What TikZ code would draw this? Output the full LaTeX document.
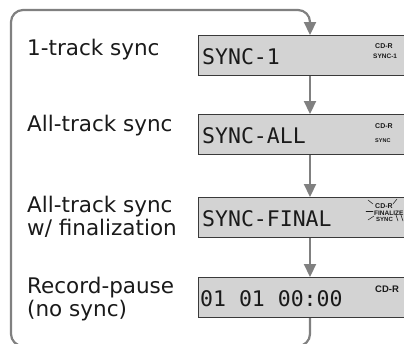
\documentclass[tikz,border=0pt]{standalone}
\usepackage{fontspec}
\setmainfont{DejaVu Sans}
\newfontfamily\lcdfont{DejaVu Sans Mono}
\newfontfamily\tagfont{Liberation Sans}
\usetikzlibrary{calc,arrows.meta}
\definecolor{bg}{HTML}{FFFFFF}
\definecolor{panel}{HTML}{D3D3D3}
\definecolor{edge}{HTML}{3A3A3A}
\definecolor{wire}{HTML}{808080}
\definecolor{ink}{HTML}{1A1A1A}
\tikzset{
  lcd/.style={draw=edge, fill=panel, line width=1.1pt, minimum width=230pt,
    minimum height=40pt, inner sep=0pt, anchor=north west},
  readout/.style={font=\lcdfont\fontsize{21.5}{22}\selectfont, text=ink,
    anchor=base west, inner sep=0pt},
  mode/.style={font=\fontsize{21.5}{23}\selectfont, text=ink,
    anchor=north west, align=left, inner sep=0pt},
  flag/.style={font=\tagfont\bfseries\fontsize{7}{7}\selectfont, text=ink,
    anchor=base west, inner sep=0pt},
  flow/.style={draw=wire, line width=2.2pt, -{Triangle[length=13pt,width=12pt]}},
  burst/.style={draw=ink, line width=0.5pt, line cap=round}
}

\begin{document}
\begin{tikzpicture}[x=1pt, y=-1pt]
  \useasboundingbox (0,0) rectangle (404,343);
  \clip (0,0) rectangle (404,343);
  \fill[bg] (0,0) rectangle (404,343);

  % display panels
  \node[lcd] (s1) at (198,35) {};
  \node[lcd] (s2) at (198,114) {};
  \node[lcd] (s3) at (198,197) {};
  \node[lcd] (s4) at (198,277) {};

  \node[readout] (t1) at (202,64) {SYNC-1};
  \node[readout] (t2) at (202,143) {SYNC-ALL};
  \node[readout] (t3) at (202,226) {SYNC-FINAL};
  \node[readout] (t4) at (200,306) {01 01 00:00};

  % indicators
  \node[flag] (c1) at (375,48) {CD-R};
  \node[flag, font=\tagfont\bfseries\fontsize{6.5}{7}\selectfont] (i1) at (373,58) {SYNC-1};
  \node[flag] (c2) at (375,128) {CD-R};
  \node[flag, font=\tagfont\bfseries\fontsize{5.5}{6}\selectfont] (i2) at (375,142) {SYNC};
  \node[flag] (c3) at (375,208) {CD-R};
  \node[flag, font=\tagfont\bfseries\fontsize{6.5}{7}\selectfont] (f3) at (374,215) {FINALIZE};
  \node[flag, font=\tagfont\bfseries\fontsize{6}{7}\selectfont] (i3) at (376,221) {SYNC};
  \node[flag, font=\tagfont\bfseries\fontsize{9.5}{10}\selectfont] (c4) at (375,292) {CD-R};

  % blinking marks
  \draw[burst] (368,200) -- (373,204);
  \draw[burst] (366,211) -- (373,211);
  \draw[burst] (368,220) -- (374,216);
  \draw[burst] (393,204) -- (397,199);
  \draw[burst] (396,215) -- (398,221);
  \draw[burst] (401,215) -- (403,221);

  % mode labels
  \node[mode] (m1) at (27,39) {1-track sync};
  \node[mode] (m2) at (27,115) {All-track sync};
  \node[mode] (m3) at (27,196) {All-track sync\\w/ finalization};
  \node[mode] (m4) at (27,277) {Record-pause\\(no sync)};

  % flow
  \coordinate (lane) at (310,0);
  \draw[flow] (s1.south -| lane) -- (s2.north -| lane);
  \draw[flow] (s2.south -| lane) -- (s3.north -| lane);
  \draw[flow] (s3.south -| lane) -- (s4.north -| lane);

  \coordinate (se) at (310,346);
  \coordinate (sw) at (11,346);
  \coordinate (nw) at (11,10);
  \coordinate (ne) at (310,10);
  \draw[flow, rounded corners=12pt] (s4.south -| lane) -- (se) -- (sw) -- (nw) -- (ne) -- (s1.north -| lane);
\end{tikzpicture}
\end{document}
